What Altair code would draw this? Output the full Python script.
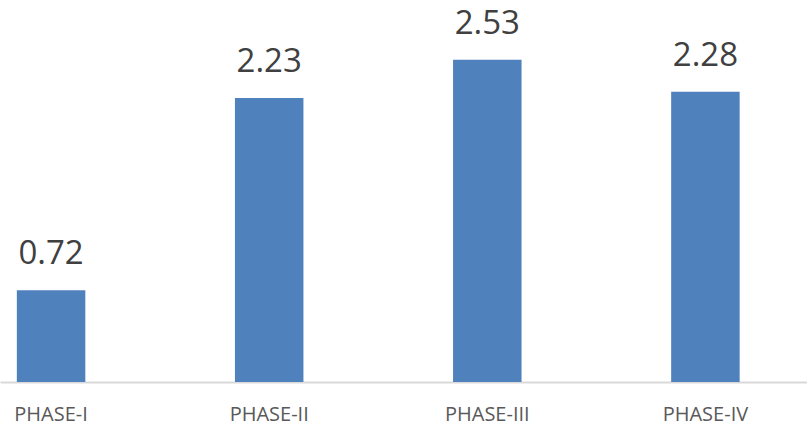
import altair as alt
import pandas as pd

phases = ["PHASE-I", "PHASE-II", "PHASE-III", "PHASE-IV"]
values = [0.72, 2.23, 2.53, 2.28]
labels = ["0.72", "2.23", "2.53", "2.28"]

df = pd.DataFrame({"phase": phases, "value": values, "label": labels})

x = alt.X("phase:N", sort=phases, title=None,
          scale=alt.Scale(paddingInner=0.686, paddingOuter=0.193, align=0.2),
          axis=alt.Axis(labelAngle=0, ticks=False, domain=True, domainColor="#d9d9d9",
                        domainWidth=2, labelFont="Open Sans", labelFontSize=20,
                        labelColor="#595959", labelPadding=22, grid=False))
y = alt.Y("value:Q", scale=alt.Scale(domain=[0, 3], nice=False), axis=None)

bars = alt.Chart(df).mark_bar(color="#4F81BD").encode(x=x, y=y)
text = alt.Chart(df).mark_text(font="Open Sans", fontSize=33, color="#404040",
                               baseline="alphabetic", dy=-26).encode(x=x, y=y, text="label:N")

chart = (bars + text).properties(
    width=807, height=382,
    padding={"left": 0, "top": 0, "right": 0, "bottom": 44},
    background="white",
    autosize=alt.AutoSizeParams(type="none"),
).configure_view(stroke=None)
chart.save("out.html", embed_options={"renderer": "svg", "actions": False})
